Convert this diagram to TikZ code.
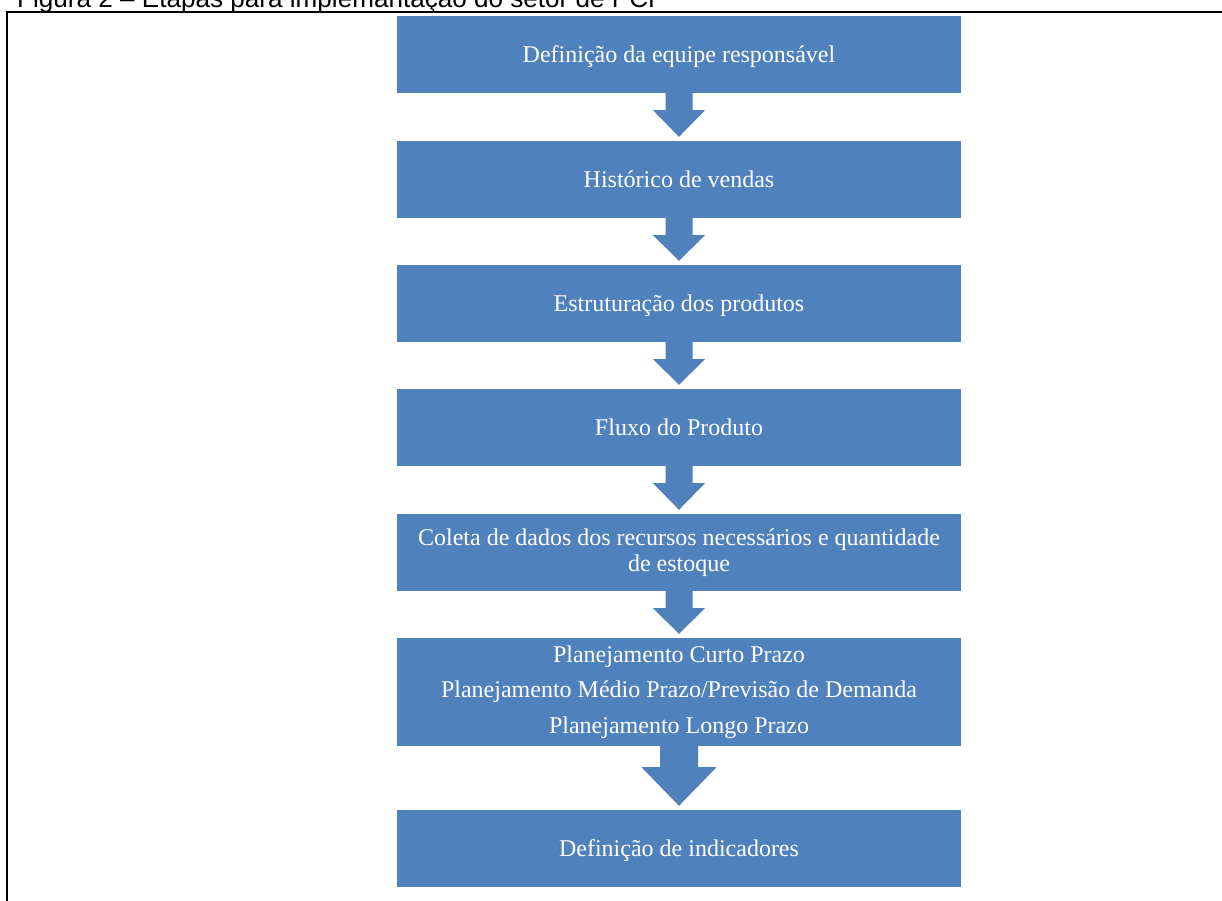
\documentclass[tikz,border=0pt]{standalone}
\usepackage{fontspec}
\setmainfont{Liberation Serif}
\newfontfamily\capfont{Liberation Sans}
\usetikzlibrary{calc}
\definecolor{boxblue}{HTML}{4F81BD}
\newcommand\flowarrowsmall[2]{%
  \fill[boxblue] ($(#1.south)+(-13.5,0)$) -- ($(#1.south)+(13.5,0)$) -- ($(#1.south)+(13.5,17)$) -- ($(#1.south)+(26,17)$) -- ($(#2.north)+(0,-4)$) -- ($(#1.south)+(-26,17)$) -- ($(#1.south)+(-13.5,17)$) -- cycle;}
\newcommand\flowarrowbig[2]{%
  \fill[boxblue] ($(#1.south)+(-19,0)$) -- ($(#1.south)+(19,0)$) -- ($(#1.south)+(19,21)$) -- ($(#1.south)+(37.5,21)$) -- ($(#2.north)+(0,-4)$) -- ($(#1.south)+(-37.5,21)$) -- ($(#1.south)+(-19,21)$) -- cycle;}
\begin{document}
\begin{tikzpicture}[x=1pt,y=-1pt,
  stepbox/.style={fill=boxblue, draw=none, minimum width=564pt, minimum height=77pt, inner sep=0pt, text=white, align=center, font=\fontsize{24}{26}\selectfont},
  oneline/.style={text height=16pt, text depth=0pt},
  captext/.style={anchor=base west, inner sep=0pt, font=\capfont\fontsize{26.1}{30}\selectfont}]
\useasboundingbox (0,0) rectangle (1222,900);
\clip (0,0) rectangle (1222,900);
\fill[white] (0,0) rectangle (1222,900);
\node[captext] (cap) at (17,7.5) {Figura 2 – Etapas para implemantação do setor de PCP};
\draw[line width=2pt] (7,905) -- (7,12) -- (1230,12);
\node[stepbox, oneline] (b1) at (679,54.5) {Definição da equipe responsável};
\node[stepbox, oneline] (b2) at (679,179.5) {Histórico de vendas};
\node[stepbox, oneline] (b3) at (679,303.5) {Estruturação dos produtos};
\node[stepbox, oneline] (b4) at (679,427.5) {Fluxo do Produto};
\node[stepbox] (b5) at (679,552.5) {Coleta de dados dos recursos necessários e quantidade\\de estoque};
\node[stepbox, minimum height=108pt, font=\fontsize{24}{35.5}\selectfont] (b6) at (679,692) {Planejamento Curto Prazo\\Planejamento Médio Prazo/Previsão de Demanda\\Planejamento Longo Prazo};
\node[stepbox, oneline] (b7) at (679,848.5) {Definição de indicadores};
\flowarrowsmall{b1}{b2}
\flowarrowsmall{b2}{b3}
\flowarrowsmall{b3}{b4}
\flowarrowsmall{b4}{b5}
\flowarrowsmall{b5}{b6}
\flowarrowbig{b6}{b7}
\end{tikzpicture}
\end{document}
